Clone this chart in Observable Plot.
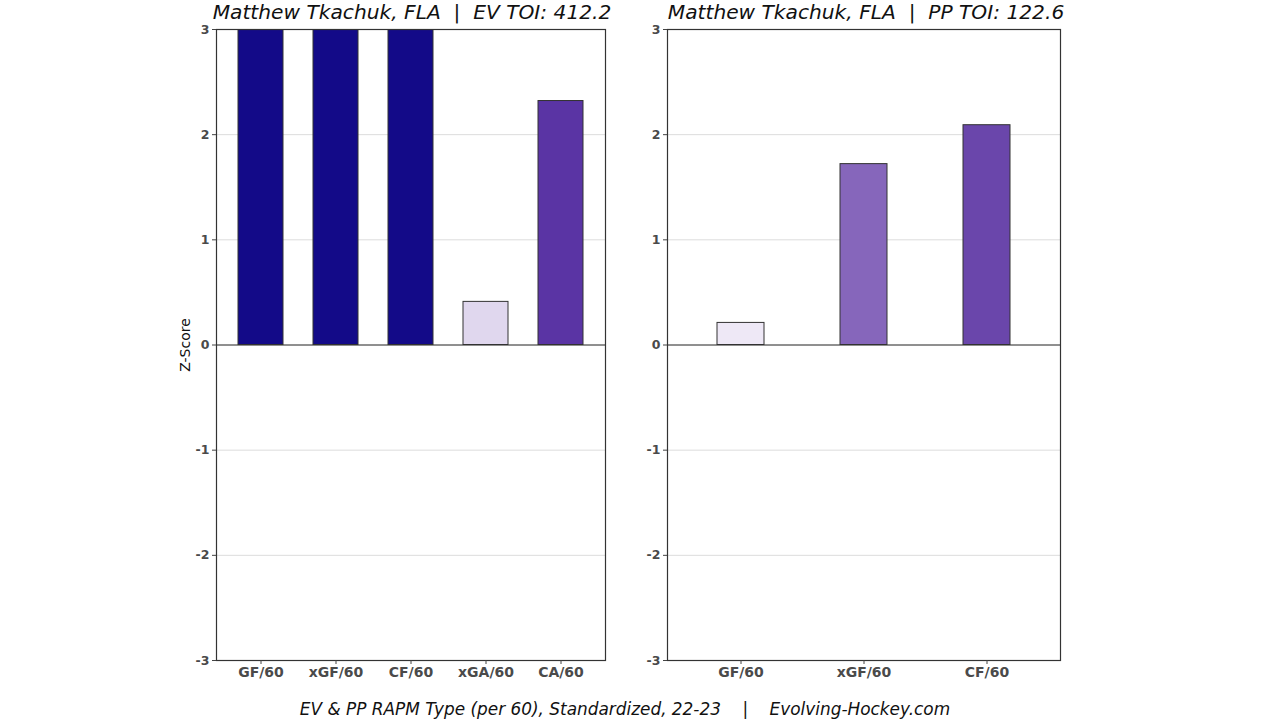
<!DOCTYPE html>
<html>
<head>
<meta charset="utf-8">
<script src="https://cdn.jsdelivr.net/npm/d3@7"></script>
<script src="https://cdn.jsdelivr.net/npm/@observablehq/plot@0.6"></script>
<style>
  html, body { margin: 0; padding: 0; background: #fff; }
  #page { position: relative; width: 1280px; height: 720px; overflow: hidden; font-family: "DejaVu Sans", sans-serif; }
  .title { position: absolute; top: 0px; font-style: italic; font-size: 20.2px; color: #111; white-space: pre; text-align: center; }
  .caption { position: absolute; top: 699px; left: 0; width: 1250px; text-align: center; font-style: italic; font-size: 16.9px; color: #111; white-space: pre; }
  .ylab { position: absolute; left: 185px; top: 345px; transform: translate(-50%, -50%) rotate(-90deg); font-size: 14px; color: #111; white-space: nowrap; }
  .panel { position: absolute; top: 20px; }
</style>
</head>
<body>
<div id="page"></div>
<script>
// ---- data ----
const evCategories = ["GF/60", "xGF/60", "CF/60", "xGA/60", "CA/60"];
const evValues = [3.0, 3.0, 3.0, 0.41, 2.32];
const ppCategories = ["GF/60", "xGF/60", "CF/60"];
const ppValues = [0.21, 1.72, 2.09];
const yTicks = [-3, -2, -1, 0, 1, 2, 3];
const evTitle = "Matthew Tkachuk, FLA  |  EV TOI: 412.2";
const ppTitle = "Matthew Tkachuk, FLA  |  PP TOI: 122.6";
const captionText = "EV & PP RAPM Type (per 60), Standardized, 22-23    |    Evolving-Hockey.com";
const yLabel = "Z-Score";

// ---- styles ----
const evColors = ["#130a88", "#130a88", "#130a88", "#e0d7ee", "#5a34a4"];
const ppColors = ["#eee8f6", "#8666bb", "#6a46ab"];

function panel(cats, vals, colors, cfg) {
  const data = cats.map((c, i) => ({stat: c, z: vals[i]}));
  return Plot.plot({
    width: cfg.width, height: 670,
    marginLeft: cfg.marginLeft, marginRight: cfg.marginRight, marginTop: 9, marginBottom: 30,
    style: {fontFamily: "DejaVu Sans", background: "transparent", overflow: "visible"},
    x: {domain: cats, paddingInner: cfg.pi, paddingOuter: cfg.po, label: null},
    y: {domain: [-3, 3], label: null},
    color: {domain: cats, range: colors},
    marks: [
      Plot.gridY(yTicks, {stroke: "#dcdcdc", strokeOpacity: 1}),
      Plot.barY(data, {x: "stat", y: "z", fill: "stat", stroke: "#333", strokeWidth: 1, clip: true}),
      Plot.ruleY([0], {stroke: "#333", strokeWidth: 1.2}),
      Plot.frame({stroke: "#333", strokeWidth: 1.2}),
      Plot.axisY(yTicks, {tickSize: 4, tickPadding: 3, tickFormat: d => String(d), fontSize: 12.5, fontWeight: "bold", fill: "#4a4a4a", stroke: "#444", label: null}),
      Plot.axisX({tickSize: 4, tickPadding: 3, fontSize: 14, fontWeight: "bold", fill: "#4a4a4a", stroke: "#444", label: null})
    ]
  });
}

const page = document.getElementById("page");

const left = panel(evCategories, evValues, evColors, {width: 450, marginLeft: 46, marginRight: 15, pi: 0.4, po: 0.293});
left.classList.add("panel");
left.style.left = "170px";
page.appendChild(left);

const right = panel(ppCategories, ppValues, ppColors, {width: 450, marginLeft: 37, marginRight: 20, pi: 0.62, po: 0.407});
right.classList.add("panel");
right.style.left = "630px";
page.appendChild(right);

function addDiv(cls, text, styles) {
  const d = document.createElement("div");
  d.className = cls;
  d.textContent = text;
  Object.assign(d.style, styles || {});
  page.appendChild(d);
  return d;
}
addDiv("title", evTitle, {left: "112px", width: "600px"});
addDiv("title", ppTitle, {left: "566px", width: "600px"});
addDiv("caption", captionText);
addDiv("ylab", yLabel);
</script>
</body>
</html>
